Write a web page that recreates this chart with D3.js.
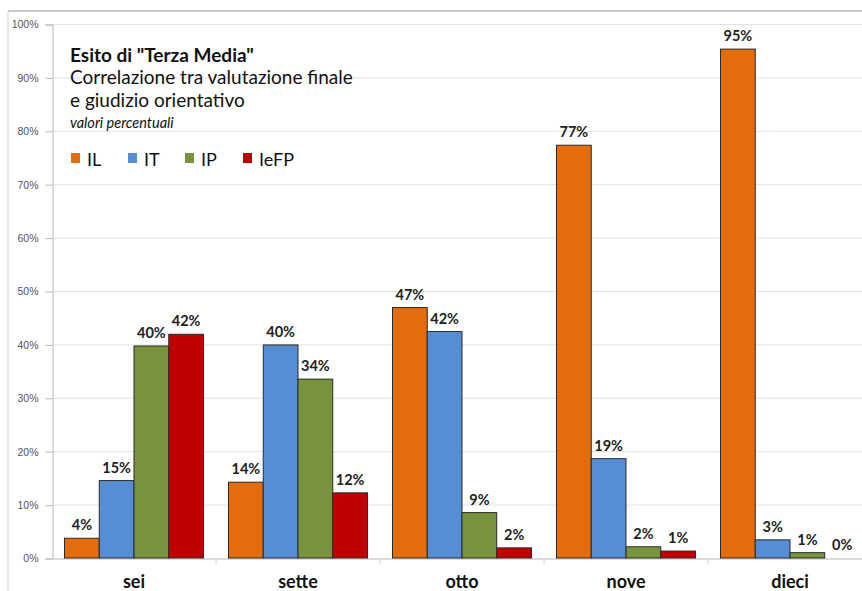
<!DOCTYPE html>
<html>
<head>
<meta charset="utf-8">
<script src="https://cdn.jsdelivr.net/npm/d3@7"></script>
<style>
  body { margin: 0; background: #fff; }
  svg { font-family: Lato, "Open Sans", sans-serif; }
</style>
</head>
<body>
<svg id="chart" width="862" height="591"></svg>
<script>
// categories and series
var categories = ["sei", "sette", "otto", "nove", "dieci"];
var seriesNames = ["IL", "IT", "IP", "IeFP"];
var seriesColors = ["#E46C0A", "#558ED5", "#77933C", "#C00000"];

// values per series (percent), same order as categories
var valIL   = [3.7, 14.2, 46.9, 77.3, 95.3];
var valIT   = [14.5, 39.9, 42.4, 18.6, 3.4];
var valIP   = [39.7, 33.5, 8.5, 2.1, 1.0];
var valIeFP = [41.9, 12.2, 1.9, 1.3, 0];

// labels as printed
var lblIL   = ["4%", "14%", "47%", "77%", "95%"];
var lblIT   = ["15%", "40%", "42%", "19%", "3%"];
var lblIP   = ["40%", "34%", "9%", "2%", "1%"];
var lblIeFP = ["42%", "12%", "2%", "1%", "0%"];

var yTicks = [0, 10, 20, 30, 40, 50, 60, 70, 80, 90, 100];

var allVals = [valIL, valIT, valIP, valIeFP];
var allLbls = [lblIL, lblIT, lblIP, lblIeFP];

var data = [];
categories.forEach(function(c, i) {
    seriesNames.forEach(function(s, j) {
        data.push({cat: c, series: s, idx: j, value: allVals[j][i], label: allLbls[j][i]});
    });
});

var svg = d3.select("#chart");
var margin = {left: 52, top: 24, bottom: 33};

// chart frame (cropped on the right)
svg.append("line").attr("x1", 8).attr("x2", 862).attr("y1", 11).attr("y2", 11)
    .attr("stroke", "#c8c8c8").attr("stroke-width", 2);
svg.append("line").attr("x1", 8).attr("x2", 8).attr("y1", 11).attr("y2", 591)
    .attr("stroke", "#d0d0d0").attr("stroke-width", 1);

var xScale = d3.scaleBand().domain(categories)
    .range([margin.left, margin.left + 164 * categories.length])
    .paddingInner(25 / 164).paddingOuter(12.5 / 164);
var xSub = d3.scaleBand().domain(seriesNames).range([0, xScale.bandwidth()]);

var yScale = d3.scaleLinear().domain([0, 100]).range([558, 24]);

// gridlines
svg.append("g").selectAll("line").data(yTicks.slice(1)).enter().append("line")
    .attr("x1", margin.left).attr("x2", 862)
    .attr("y1", function(d) { return yScale(d) + 0.5; })
    .attr("y2", function(d) { return yScale(d) + 0.5; })
    .attr("stroke", "#e2e2e2");

// y axis
var yAxis = d3.axisLeft(yScale).tickValues(yTicks)
    .tickFormat(function(d) { return d + "%"; }).tickSize(7).tickPadding(7);
var gy = svg.append("g").attr("transform", "translate(" + (margin.left + 0.5) + ",0.5)").call(yAxis);
gy.select(".domain").attr("stroke", "#b8b8b8");
gy.selectAll(".tick line").attr("stroke", "#b8b8b8");
gy.selectAll("text").attr("font-size", 10.5).attr("fill", "#555")
    .attr("font-family", "'Liberation Sans', Arial, sans-serif");

// x axis
var xAxis = d3.axisBottom(xScale).tickSize(0).tickPadding(17).tickSizeOuter(0);
var gx = svg.append("g").attr("transform", "translate(0," + (yScale(0) + 0.5) + ")").call(xAxis);
gx.select(".domain").attr("stroke", "#b8b8b8");
gx.selectAll("text").attr("font-size", 18).attr("font-weight", "bold").attr("fill", "#111")
    .attr("font-family", "Lato, sans-serif");
// small separators between categories
svg.append("g").selectAll("line").data(categories.slice(1)).enter().append("line")
    .attr("x1", function(d) { return xScale(d) - 12.5; })
    .attr("x2", function(d) { return xScale(d) - 12.5; })
    .attr("y1", yScale(0)).attr("y2", yScale(0) + 6)
    .attr("stroke", "#d0d0d0");

// bars
var groups = svg.append("g").selectAll("g").data(data).enter().append("g")
    .attr("transform", function(d) { return "translate(" + (xScale(d.cat) + xSub(d.series)) + ",0)"; });

groups.append("rect")
    .attr("x", 0)
    .attr("width", xSub.bandwidth())
    .attr("y", function(d) { return yScale(d.value); })
    .attr("height", function(d) { return yScale(0) - yScale(d.value); })
    .attr("fill", function(d) { return seriesColors[d.idx]; })
    .attr("stroke", function(d) { return d.value > 0 ? "#2b2b2b" : "none"; })
    .attr("stroke-width", 1);

groups.append("text")
    .attr("x", xSub.bandwidth() / 2)
    .attr("y", function(d) { return yScale(d.value) - 8; })
    .attr("text-anchor", "middle")
    .attr("font-size", 14.5).attr("font-weight", "bold").attr("fill", "#222")
    .text(function(d) { return d.label; });

// title block
var title = svg.append("g").attr("transform", "translate(70,0)");
title.append("text").attr("y", 62).attr("font-size", 19).attr("font-weight", "bold").attr("fill", "#111")
    .text('Esito di "Terza Media"');
title.append("text").attr("y", 84).attr("font-size", 19).attr("fill", "#111")
    .text("Correlazione tra valutazione finale");
title.append("text").attr("y", 107).attr("font-size", 19).attr("fill", "#111")
    .text("e giudizio orientativo");
title.append("text").attr("y", 128).attr("font-size", 14.5).attr("font-style", "italic").attr("fill", "#111")
    .text("valori percentuali");

// legend
var legendX = [71, 128, 185, 243];
var legend = svg.append("g").selectAll("g").data(seriesNames).enter().append("g")
    .attr("transform", function(d, i) { return "translate(" + legendX[i] + ",153)"; });
legend.append("rect").attr("width", 9).attr("height", 10)
    .attr("fill", function(d, i) { return seriesColors[i]; });
legend.append("text").attr("x", 16).attr("y", 13).attr("font-size", 18).attr("fill", "#111")
    .text(function(d) { return d; });
</script>
</body>
</html>
